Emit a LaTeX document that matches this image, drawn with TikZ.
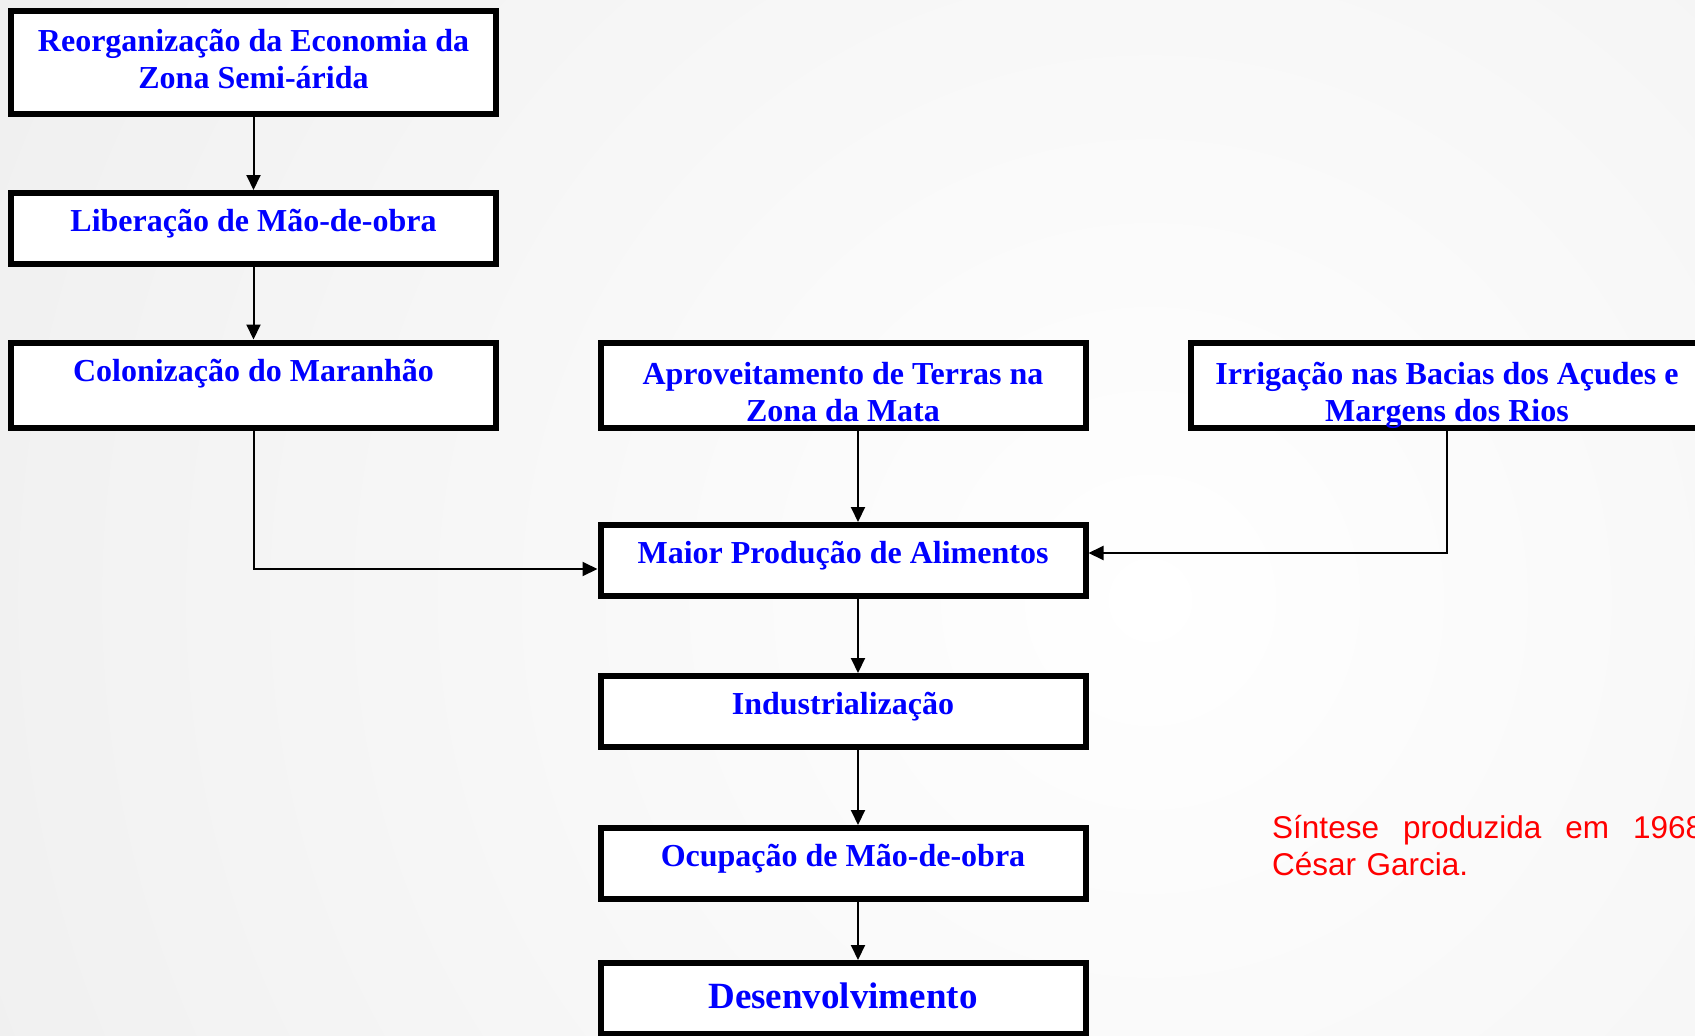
\documentclass[tikz,border=0pt]{standalone}
\usepackage{fontspec}
\setmainfont{Liberation Serif}
\newfontfamily\notafont{Liberation Sans}
\usepackage{tikz}
\usetikzlibrary{arrows.meta}
\definecolor{col1}{HTML}{0000FF}
\definecolor{col2}{HTML}{FF0000}
\definecolor{col3}{HTML}{E0E0E0}

\begin{document}
\begin{tikzpicture}[x=1pt, y=-1pt]
    \tikzstyle{caixa} = [draw=black, fill=white, line width=6pt, inner sep=0pt,
      minimum width=485pt, minimum height=71pt, align=center, text=col1,
      font=\fontsize{32}{37}\selectfont\bfseries, text height=24pt, text depth=19pt];
    \tikzstyle{caixa2} = [caixa, minimum height=85pt, text height=76pt, text depth=4pt];

    \useasboundingbox (0,0) rectangle (1695,1036);
    \begin{scope}
      \clip (0,0) rectangle (1695,1036);
      \fill[col3] (0,0) rectangle (1695,1036);
      \shade[inner color=white, outer color=col3] (1150,600) circle (2600pt);
    \end{scope}

    \node (c_1) at ( 253.5,    62) [caixa2, minimum height=103pt, text height=56pt] {Reorganização da Economia da\\Zona Semi-árida};
    \node (c_2) at ( 253.5, 228.5) [caixa] {Liberação de Mão-de-obra};
    \node (c_3) at ( 253.5, 385) [caixa, minimum height=85pt, text depth=31pt] {Colonização do Maranhão};
    \node (c_4) at ( 843,   385) [caixa2] {Aproveitamento de Terras na\\Zona da Mata};
    \node (c_5) at (1447,   385) [caixa2, minimum width=512pt] {Irrigação nas Bacias dos Açudes e\\Margens dos Rios};
    \node (c_6) at ( 843, 560.5) [caixa] {Maior Produção de Alimentos};
    \node (c_7) at ( 843, 711.5) [caixa] {Industrialização};
    \node (c_8) at ( 843, 863.5) [caixa] {Ocupação de Mão-de-obra};
    \node (c_9) at ( 843, 998.5) [caixa, font=\fontsize{37}{42}\selectfont\bfseries, text height=28pt, text depth=9pt] {Desenvolvimento};

    \node (nota) at (1272, 838) [anchor=base west, inner sep=0pt, text width=431pt, align=left, text=col2,
      font=\notafont\fontsize{31.5}{37}\selectfont] {Síntese\hfill produzida\hfill em\hfill 1968\\César Garcia.};

    \begin{scope}[-{Triangle[length=15pt, width=14pt]}, line width=2pt]
      \draw (c_1) -- (c_2);
      \draw (c_2) -- (c_3);
      \draw (c_3.south) |- ([yshift=-8.5pt]c_6.west);
      \draw (c_5.south) |- ([yshift=7.5pt]c_6.east);
      \draw ([xshift=15pt]c_4.south) -- ([xshift=15pt]c_6.north);
      \draw ([xshift=15pt]c_6.south) -- ([xshift=15pt]c_7.north);
      \draw ([xshift=15pt]c_7.south) -- ([xshift=15pt]c_8.north);
      \draw ([xshift=15pt]c_8.south) -- ([xshift=15pt]c_9.north);
    \end{scope}
  \end{tikzpicture}
\end{document}
